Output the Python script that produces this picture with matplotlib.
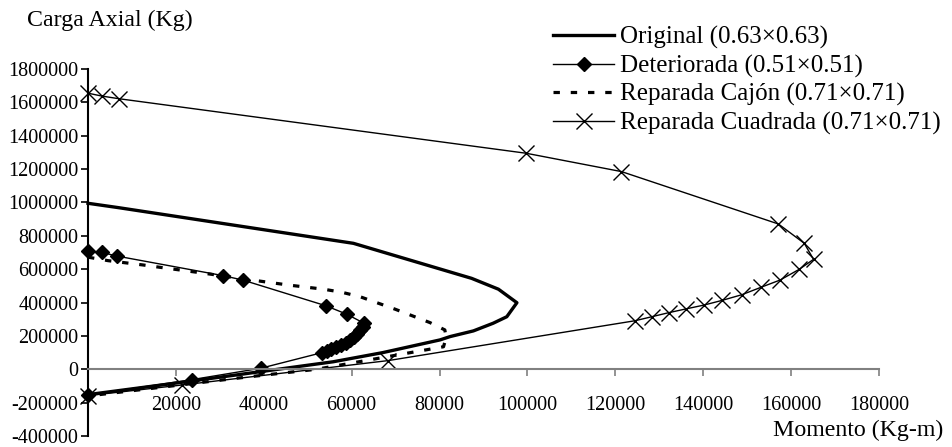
import matplotlib
matplotlib.use("Agg")
from matplotlib import pyplot as plt

plt.rcParams['font.family'] = ['Liberation Serif', 'DejaVu Serif']

# Original (0.63x0.63)
orig_m = [0, 6900, 60400, 87300, 93400, 97600, 95300, 92200, 87700, 82400,
          80100, 67100, 55800, 22000, 0]
orig_p = [995000, 969000, 755000, 545000, 480000, 399000, 315000, 276000,
          230000, 196000, 176000, 100000, 45000, -76000, -152000]

# Deteriorada (0.51x0.51)
det_m = [0, 3100, 6500, 30800, 35200, 54100, 58900, 62800, 62500, 62000,
         61300, 60500, 59600, 58600, 57500, 56400, 55300, 54300, 53300,
         39300, 23700, 0]
det_p = [709000, 701000, 679000, 561000, 535000, 381000, 330000, 276000,
         255000, 234000, 213000, 194000, 176000, 160000, 146000, 133000,
         121000, 110000, 100000, 6000, -62000, -155000]

# Reparada Cajon (0.71x0.71)
caj_m = [0, 4600, 12600, 17000, 25500, 37300, 45600, 53600, 57700, 61900,
         69900, 77800, 81200, 81500, 80900, 52000, 35700, 0]
caj_p = [672000, 651000, 625000, 609000, 579000, 535000, 505000, 480000,
         462000, 435000, 360000, 280000, 236000, 190000, 135000, 0, -48000,
         -160000]

# Reparada Cuadrada (0.71x0.71)
cua_m = [0, 3100, 7000, 99700, 121400, 157100, 163000, 165100, 161900,
         157500, 153200, 148800, 144300, 140200, 136100, 132100, 128300,
         124500, 68300, 21500, 0]
cua_p = [1655000, 1638000, 1622000, 1295000, 1185000, 871000, 755000,
         659000, 600000, 535000, 492000, 447000, 413000, 385000, 362000,
         339000, 315000, 291000, 52000, -94000, -158000]

x_ticks = [20000, 40000, 60000, 80000, 100000, 120000, 140000, 160000, 180000]
y_ticks = list(range(-400000, 1800001, 200000))

fig = plt.figure(figsize=(9.53, 4.47), dpi=100)
ax = fig.add_axes([88 / 953, 11 / 447, (879 - 88) / 953, (436 - 69) / 447])

ax.plot(orig_m, orig_p, color='black', lw=2.4,
        label='Original (0.63×0.63)', clip_on=False)
ax.plot(det_m, det_p, color='black', lw=1.0, marker='D', markersize=7,
        label='Deteriorada (0.51×0.51)', clip_on=False)
ax.plot(caj_m, caj_p, color='black', lw=2.3, linestyle=(0, (2.0, 3.4)),
        label='Reparada Cajón (0.71×0.71)', clip_on=False)
ax.plot(cua_m, cua_p, color='black', lw=1.0, marker='x', markersize=11,
        markeredgewidth=1.0, label='Reparada Cuadrada (0.71×0.71)',
        clip_on=False)

ax.set_xlim(0, 180000)
ax.set_ylim(-400000, 1800000)

ax.spines['top'].set_visible(False)
ax.spines['right'].set_visible(False)
ax.spines['left'].set_linewidth(1.5)
ax.spines['bottom'].set_position(('data', 0))
ax.spines['bottom'].set_color('#808080')
ax.spines['bottom'].set_linewidth(1.5)

ax.set_xticks(x_ticks)
ax.set_xticklabels([str(v) for v in x_ticks])
ax.set_yticks(y_ticks)
ax.set_yticklabels([str(v) for v in y_ticks])
ax.tick_params(axis='x', direction='out', length=5, width=1.2,
               color='#808080', pad=14, labelsize=14.5)
ax.tick_params(axis='y', direction='out', length=5, width=1.2,
               color='black', pad=2, labelsize=14.5)

fig.text(27 / 953, 1 - 20 / 447, 'Carga Axial (Kg)', fontsize=17.2,
         ha='left', va='center')
fig.text(943 / 953, 1 - 430 / 447, 'Momento (Kg-m)', fontsize=17.2,
         ha='right', va='center')

ax.legend(loc='upper left', bbox_to_anchor=(553 / 953, 1 - 26 / 447),
          bbox_transform=fig.transFigure, frameon=False, fontsize=18,
          borderaxespad=0, borderpad=0, handlelength=2.45,
          handletextpad=0.25, labelspacing=0.22)

fig.savefig('out.png', dpi=100)
